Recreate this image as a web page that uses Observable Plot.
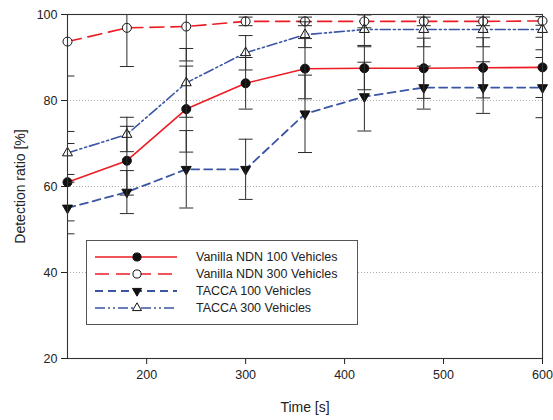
<!DOCTYPE html>
<html>
<head>
<meta charset="utf-8">
<script src="https://cdn.jsdelivr.net/npm/d3@7"></script>
<script src="https://cdn.jsdelivr.net/npm/@observablehq/plot@0.6"></script>
<style>
  html, body { margin: 0; padding: 0; background: #fff; }
  #wrap { position: relative; width: 553px; height: 420px; }
  #wrap svg { font-family: "Liberation Sans", Arial, sans-serif; }
  #chart svg { font-size: 12.5px; color: #222; }
  #chart g[aria-label="x-axis label"] text, #chart g[aria-label="y-axis label"] text { font-size: 14px; }
  #legend { position: absolute; left: 0; top: 0; pointer-events: none; }
</style>
</head>
<body>
<div id="wrap"><div id="chart"></div></div>
<script>
// ---- data ----
const times = [120, 180, 240, 300, 360, 420, 480, 540, 600];

const seriesNames = [
  "Vanilla NDN 100 Vehicles",
  "Vanilla NDN 300 Vehicles",
  "TACCA 100 Vehicles",
  "TACCA 300 Vehicles"
];

const vanilla100 = [61.0, 66.0, 78.0, 84.0, 87.4, 87.5, 87.5, 87.6, 87.7];
const vanilla100Err = [9, 8, 10, 6, 7, 5, 7, 7, 7];

const vanilla300 = [93.7, 96.9, 97.2, 98.4, 98.4, 98.4, 98.4, 98.4, 98.5];
const vanilla300Err = [8, 9, 8, 1, 1, 1.5, 1, 1, 1];

const tacca100 = [55.0, 58.7, 64.0, 64.0, 76.9, 80.9, 83.0, 83.0, 83.0];
const tacca100Err = [6, 5, 9, 7, 9, 8, 5, 6, 7];

const tacca300 = [67.8, 72.1, 84.1, 91.1, 95.3, 96.5, 96.5, 96.5, 96.5];
const tacca300Err = [5, 4, 8, 4, 3, 3.7, 4, 4, 4.7];

const xTicks = [200, 300, 400, 500, 600];
const yTicks = [20, 40, 60, 80, 100];

// ---- styles ----
const RED = "#ec1c24", BLUE = "#3a55a4";
const styles = {
  "Vanilla NDN 100 Vehicles": {stroke: RED, dash: null, width: 1.6, symbol: "circle", fill: "#111", r: 4.5, rotate: 0},
  "Vanilla NDN 300 Vehicles": {stroke: RED, dash: "14,7", width: 1.6, symbol: "circle", fill: "#fff", r: 4.5, rotate: 0},
  "TACCA 100 Vehicles": {stroke: BLUE, dash: "8,5", width: 1.8, symbol: "triangle", fill: "#111", r: 3.7, rotate: 180},
  "TACCA 300 Vehicles": {stroke: BLUE, dash: "10,3,2,3,2,3", width: 1.6, symbol: "triangle", fill: "#fff", r: 3.7, rotate: 0}
};

const valueSets = [vanilla100, vanilla300, tacca100, tacca300];
const errSets = [vanilla100Err, vanilla300Err, tacca100Err, tacca300Err];

const rows = [];
seriesNames.forEach((name, i) => {
  times.forEach((t, j) => {
    const v = valueSets[i][j], e = errSets[i][j];
    rows.push({series: name, t, v, lo: v - e, hi: v + e});
  });
});

// horizontal cap symbol
const capSymbol = {
  draw(ctx, size) {
    const w = Math.sqrt(size / Math.PI);
    ctx.moveTo(-w, 0);
    ctx.lineTo(w, 0);
  }
};

const marks = [
  Plot.gridY(yTicks.filter(d => d > 20 && d < 100), {stroke: "#b0b0b0", strokeOpacity: 1, strokeDasharray: "1,2"})
];
seriesNames.forEach(name => {
  const s = styles[name];
  const data = rows.filter(d => d.series === name);
  marks.push(Plot.line(data, {x: "t", y: "v", stroke: s.stroke, strokeWidth: s.width, strokeDasharray: s.dash}));
});
seriesNames.forEach(name => {
  const s = styles[name];
  const data = rows.filter(d => d.series === name);
  marks.push(Plot.dot(data, {x: "t", y: "v", symbol: s.symbol, r: s.r, fill: s.fill, stroke: "#111", strokeWidth: 1, rotate: s.rotate}));
});
marks.push(Plot.ruleX(rows, {x: "t", y1: "lo", y2: "hi", stroke: "#2a2a2a", strokeWidth: 1, clip: true}));
marks.push(Plot.dot(rows, {x: "t", y: "lo", symbol: capSymbol, r: 7, stroke: "#2a2a2a", strokeWidth: 1, clip: true}));
marks.push(Plot.dot(rows, {x: "t", y: "hi", symbol: capSymbol, r: 7, stroke: "#2a2a2a", strokeWidth: 1, clip: true}));
marks.push(Plot.frame({stroke: "#333", strokeWidth: 1.1}));

const chart = Plot.plot({
  width: 553,
  height: 420,
  marginLeft: 67,
  marginRight: 11,
  marginTop: 14,
  marginBottom: 62,
  style: {background: "#fff", fontFamily: "'Liberation Sans', Arial, sans-serif", fontSize: "12.5px"},
  x: {domain: [120, 600], ticks: xTicks, tickSize: 6, tickPadding: 6, label: "Time [s]", labelAnchor: "center", labelOffset: 53, labelArrow: "none"},
  y: {domain: [20, 100], ticks: yTicks, tickSize: 6, tickPadding: 4, label: "Detection ratio [%]", labelAnchor: "center", labelOffset: 52, labelArrow: "none"},
  marks
});
document.getElementById("chart").appendChild(chart);

// ---- legend (drawn over the plot area) ----
const leg = d3.select("#wrap").append("svg").attr("id", "legend").attr("width", 553).attr("height", 420);
leg.append("rect").attr("x", 86.5).attr("y", 240.5).attr("width", 271).attr("height", 84)
  .attr("fill", "#fff").attr("stroke", "#555").attr("stroke-width", 1);
seriesNames.forEach((name, i) => {
  const s = styles[name];
  const y = 257 + i * 17;
  leg.append("line").attr("x1", 95).attr("x2", 177).attr("y1", y).attr("y2", y)
    .attr("stroke", s.stroke).attr("stroke-width", s.width).attr("stroke-dasharray", s.dash);
  const sym = s.symbol === "circle" ? d3.symbolCircle : d3.symbolTriangle;
  const rr = s.symbol === "circle" ? s.r * 0.9 : s.r * 0.9;
  leg.append("path").attr("d", d3.symbol(sym, Math.PI * rr * rr)())
    .attr("transform", `translate(137,${y}) rotate(${s.rotate})`)
    .attr("fill", s.fill).attr("stroke", "#111").attr("stroke-width", 1);
  leg.append("text").attr("x", 196).attr("y", y).attr("dy", "0.35em")
    .attr("font-size", 12.5).attr("fill", "#222").text(name);
});
</script>
</body>
</html>
